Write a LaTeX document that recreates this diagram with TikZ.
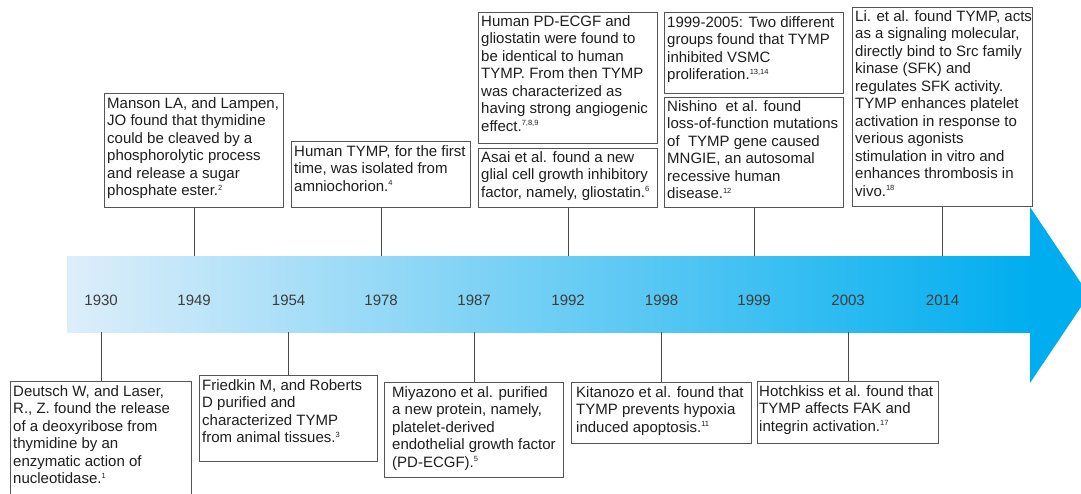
\documentclass[tikz,border=0pt]{standalone}
\usepackage{fontspec}
\setmainfont{Liberation Sans}
\definecolor{boxc}{HTML}{555555}
\definecolor{txtc}{HTML}{1E1E1E}
\definecolor{yrc}{HTML}{3C3C3C}
\definecolor{linec}{HTML}{4A4A4A}
\definecolor{arrL}{HTML}{DDEEFA}
\definecolor{arrR}{HTML}{00AEEF}
\newcommand\refn[1]{\textsuperscript{\fontsize{7.5}{7.5}\selectfont #1}}
\begin{document}
\begin{tikzpicture}[x=1pt,y=-1pt,
  box/.style={draw=boxc, line width=1.3pt, anchor=north west, inner sep=0pt, fill=white},
  txt/.style={anchor=north west, align=left, inner sep=0pt, text=txtc, font=\fontsize{15}{17.5}\selectfont},
  yr/.style={text=yrc, font=\fontsize{15}{17}\selectfont, inner sep=0pt},
  conn/.style={draw=linec, line width=1pt}]
\useasboundingbox (0,0) rectangle (1081,493);
% arrow
\shade[left color=arrL, right color=arrR] (67,256) rectangle (1031,332);
\fill[arrR] (1030,207) -- (1089,295) -- (1030,383) -- cycle;
\coordinate (atop) at (0,256);
\coordinate (abot) at (0,332);
\coordinate (ymid) at (0,300);

% top boxes
\node[box, minimum width=179pt, minimum height=114pt] (b1949) at (104,93) {};
\node[txt] (t1949) at ([shift={(3,4)}]b1949.north west) {Manson LA, and Lampen,\\JO found that thymidine\\could be cleaved by a\\phosphorolytic process\\and release a sugar\\phosphate ester.\refn{2}};

\node[box, minimum width=179pt, minimum height=66pt] (b1978) at (291,141) {};
\node[txt] (t1978) at ([shift={(3,4)}]b1978.north west) {Human TYMP, for the first\\time, was isolated from\\amniochorion.\refn{4}};

\node[box, minimum width=179pt, minimum height=131pt] (bpd) at (478,12) {};
\node[txt] (tpd) at ([shift={(3,3)}]bpd.north west) {Human PD-ECGF and\\gliostatin were found to\\be identical to human\\TYMP. From then TYMP\\was characterized as\\having strong angiogenic\\effect.\refn{7,8,9}};

\node[box, minimum width=179pt, minimum height=59pt] (b1992) at (478,148) {};
\node[txt] (t1992) at ([shift={(3,3)}]b1992.north west) {Asai et al. found a new\\glial cell growth inhibitory\\factor, namely, gliostatin.\refn{6}};

\node[box, minimum width=179pt, minimum height=81pt] (bvsmc) at (664,12) {};
\node[txt] (tvsmc) at ([shift={(3,4)}]bvsmc.north west) {1999-2005: Two different\\groups found that TYMP\\inhibited VSMC\\proliferation.\refn{13,14}};

\node[box, minimum width=179pt, minimum height=110pt] (b1999) at (664,97) {};
\node[txt] (t1999) at ([shift={(3,3)}]b1999.north west) {Nishino\ \ et al. found\\loss-of-function mutations\\of\ \ TYMP gene caused\\MNGIE, an autosomal\\recessive human\\disease.\refn{12}};

\node[box, minimum width=180pt, minimum height=199pt] (b2014) at (852,7) {};
\node[txt] (t2014) at ([shift={(3,3)}]b2014.north west) {Li. et al. found TYMP, acts\\as a signaling molecular,\\directly bind to Src family\\kinase (SFK) and\\regulates SFK activity.\\TYMP enhances platelet\\activation in response to\\verious agonists\\stimulation in vitro and\\enhances thrombosis in\\vivo.\refn{18}};

% bottom boxes
\node[box, minimum width=181pt, minimum height=125pt] (b1930) at (10,381) {};
\node[txt] (t1930) at ([shift={(3,4)}]b1930.north west) {Deutsch W, and Laser,\\R., Z. found the release\\of a deoxyribose from\\thymidine by an\\enzymatic action of\\nucleotidase.\refn{1}};

\node[box, minimum width=178pt, minimum height=86pt] (b1954) at (199,375) {};
\node[txt] (t1954) at ([shift={(3,4)}]b1954.north west) {Friedkin M, and Roberts\\D purified and\\characterized TYMP\\from animal tissues.\refn{3}};

\node[box, minimum width=179pt, minimum height=95pt] (b1987) at (384,382) {};
\node[txt] (t1987) at ([shift={(8,4)}]b1987.north west) {Miyazono et al. purified\\a new protein, namely,\\platelet-derived\\endothelial growth factor\\(PD-ECGF).\refn{5}};

\node[box, minimum width=180pt, minimum height=61pt] (b1998) at (571,382) {};
\node[txt] (t1998) at ([shift={(5,4)}]b1998.north west) {Kitanozo et al. found that\\TYMP prevents hypoxia\\induced apoptosis.\refn{11}};

\node[box, minimum width=181pt, minimum height=62pt] (b2003) at (757,381) {};
\node[txt] (t2003) at ([shift={(2,4)}]b2003.north west) {Hotchkiss et al. found that\\TYMP affects FAK and\\integrin activation.\refn{17}};

% connectors
\foreach \b in {b1949,b1978,b1992,b1999,b2014}
  \draw[conn] (\b.south) -- (\b.south |- atop);
\foreach \b in {b1930,b1954,b1987,b1998,b2003}
  \draw[conn] (\b.north) -- (\b.north |- abot);

% years
\node[yr] (y1930) at (b1930.north |- ymid) {1930};
\node[yr] (y1949) at (b1949.south |- ymid) {1949};
\node[yr] (y1954) at (b1954.north |- ymid) {1954};
\node[yr] (y1978) at (b1978.south |- ymid) {1978};
\node[yr] (y1987) at (b1987.north |- ymid) {1987};
\node[yr] (y1992) at (b1992.south |- ymid) {1992};
\node[yr] (y1998) at (b1998.north |- ymid) {1998};
\node[yr] (y1999) at (b1999.south |- ymid) {1999};
\node[yr] (y2003) at (b2003.north |- ymid) {2003};
\node[yr] (y2014) at (b2014.south |- ymid) {2014};
\end{tikzpicture}
\end{document}
